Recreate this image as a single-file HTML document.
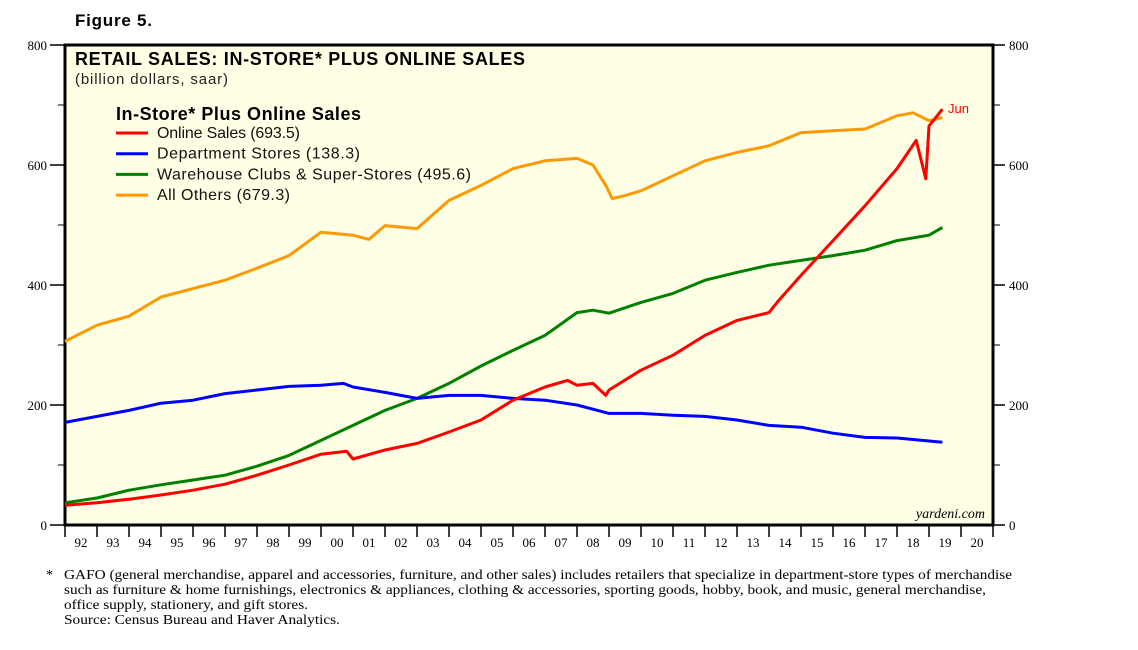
<!DOCTYPE html>
<html><head><meta charset="utf-8"><style>
body{margin:0;background:#fff;width:1138px;height:645px;overflow:hidden}
svg text{font-family:"Liberation Sans",sans-serif}
.s{font-family:"Liberation Serif",serif}
</style></head><body>
<svg id="c" width="1138" height="645">
<text x="75" y="26" font-size="17" font-weight="bold" textLength="77">Figure 5.</text>
<rect x="65" y="45" width="928" height="480" fill="#ffffe6" stroke="#000" stroke-width="3"/>
<text x="75" y="65" font-size="18" font-weight="bold" textLength="450">RETAIL SALES: IN-STORE* PLUS ONLINE SALES</text>
<text x="75" y="84" font-size="15" fill="#222" textLength="153">(billion dollars, saar)</text>
<g id="legend">
<text x="116" y="120" font-size="18" font-weight="bold" textLength="245">In-Store* Plus Online Sales</text>
</g>
<g id="axes"></g>
<g id="series"></g>
<text x="948" y="113" font-size="13" fill="#f00">Jun</text>
<text class="s" x="985" y="518" font-size="14" font-style="italic" text-anchor="end">yardeni.com</text>
<g class="s" font-size="14">
<text class="s" x="46" y="579">*</text>
<text class="s" x="64" y="579" textLength="948" lengthAdjust="spacingAndGlyphs">GAFO (general merchandise, apparel and accessories, furniture, and other sales) includes retailers that specialize in department-store types of merchandise</text>
<text class="s" x="64" y="594" textLength="922" lengthAdjust="spacingAndGlyphs">such as furniture &amp; home furnishings, electronics &amp; appliances, clothing &amp; accessories, sporting goods, hobby, book, and music, general merchandise,</text>
<text class="s" x="64" y="609" textLength="244" lengthAdjust="spacingAndGlyphs">office supply, stationery, and gift stores.</text>
<text class="s" x="64" y="624" textLength="276" lengthAdjust="spacingAndGlyphs">Source: Census Bureau and Haver Analytics.</text>
</g>
</svg>
<script>
const yTicks=[0,200,400,600,800];
const yearLabels=["92","93","94","95","96","97","98","99","00","01","02","03","04","05","06","07","08","09","10","11","12","13","14","15","16","17","18","19","20"];
const othersX=[1992,1993,1994,1995,1996,1997,1998,1999,2000,2001,2001.5,2002,2003,2004,2005,2006,2007,2008,2008.5,2008.9,2009.1,2009.5,2010,2011,2012,2013,2014,2015,2016,2017,2018,2018.5,2019,2019.42];
const othersY=[306,333,348,380,394,408,428,449,488,483,476,499,494,541,566,594,607,611,600,566,544,549,557,582,607,621,632,654,657,660,682,687,674,679];
const onlineX=[1992,1993,1994,1995,1996,1997,1998,1999,2000,2000.8,2001,2002,2003,2004,2005,2006,2007,2007.7,2008,2008.5,2008.9,2009,2010,2011,2012,2013,2014,2014.3,2015,2016,2017,2018,2018.6,2018.9,2019,2019.42];
const onlineY=[33,37,43,50,58,68,83,100,118,123,110,125,136,155,175,208,230,241,233,236,216,225,258,283,316,341,354,374,416,474,532,594,641,577,665,693];
const wareX=[1992,1993,1994,1995,1996,1997,1998,1999,2000,2001,2002,2003,2004,2005,2006,2007,2008,2008.5,2009,2010,2011,2012,2013,2014,2015,2016,2017,2018,2019,2019.42];
const wareY=[37,45,58,67,75,83,98,116,141,166,191,211,236,265,291,316,354,358,353,371,386,408,421,433,441,449,458,474,483,496];
const deptX=[1992,1993,1994,1995,1996,1997,1998,1999,2000,2000.7,2001,2002,2003,2004,2005,2006,2007,2008,2009,2010,2011,2012,2013,2014,2015,2016,2017,2018,2019,2019.42];
const deptY=[171,181,191,203,208,219,225,231,233,236,230,221,211,216,216,211,208,200,186,186,183,181,175,166,163,153,146,145,140,138];
const NS="http://www.w3.org/2000/svg";
const X0=65,X1=993,Y0=525,Y1=45;
const xs=t=>X0+(t-1992)/29*(X1-X0);
const ys=v=>Y0-v/800*(Y0-Y1);
function mk(tag,attrs,parent){const e=document.createElementNS(NS,tag);for(const k in attrs)e.setAttribute(k,attrs[k]);parent.appendChild(e);return e;}
const ax=document.getElementById('axes');
yTicks.forEach(v=>{
 const t1=mk('line',{x1:50,x2:X0,y1:ys(v),y2:ys(v),stroke:'#000','stroke-width':1.5},ax);
 
 
 const t2=mk('line',{x1:X1,x2:1005,y1:ys(v),y2:ys(v),stroke:'#000','stroke-width':1.5},ax);
 
 
 const l=mk('text',{x:47,y:ys(v)+5,'font-size':13,'text-anchor':'end',class:'s'},ax);l.textContent=v;
 
 
 const r=mk('text',{x:1009,y:ys(v)+5,'font-size':13,class:'s'},ax);r.textContent=v;
 
 
});
[100,300,500,700].forEach(v=>{mk('line',{x1:58,x2:X0,y1:ys(v),y2:ys(v),stroke:'#000'},ax);mk('line',{x1:X1,x2:1000,y1:ys(v),y2:ys(v),stroke:'#000'},ax);});
yearLabels.forEach((s,i)=>{
 const tk=mk('line',{x1:xs(1992+i),x2:xs(1992+i),y1:Y0,y2:Y0+12,stroke:'#000','stroke-width':1.5},ax);
 
 
 const t=mk('text',{x:xs(1992.5+i),y:Y0+22,'font-size':13,'text-anchor':'middle',class:'s'},ax);t.textContent=s;
 
 
});
mk('line',{x1:X1,x2:X1,y1:Y0,y2:Y0+12,stroke:'#000','stroke-width':1.5},ax);
const sg=document.getElementById('series');
const series=[["others",othersX,othersY,"#ff9900"],["warehouse",wareX,wareY,"#008000"],["department",deptX,deptY,"#0000ff"],["online",onlineX,onlineY,"#ff0000"]];
series.forEach(([n,xa,ya,c])=>{
 const d=xa.map((t,i)=>(i?'L':'M')+xs(t).toFixed(1)+','+ys(ya[i]).toFixed(1)).join('');
 const p=mk('path',{d:d,fill:'none',stroke:c,'stroke-width':3,'stroke-linejoin':'round'},sg);
 
 
});
const lg=document.getElementById('legend');
const legendItems=[["Online Sales (693.5)","#ff0000",143],["Department Stores (138.3)","#0000ff",203],["Warehouse Clubs & Super-Stores (495.6)","#008000",314],["All Others (679.3)","#ff9900",133]];
legendItems.forEach(([s,c,w],i)=>{
 const y=133+i*20.7;
 const l=mk('line',{x1:116,x2:148,y1:y,y2:y,stroke:c,'stroke-width':3},lg);
 
 
 const t=mk('text',{x:157,y:y+5,'font-size':16,fill:'#111',textLength:w},lg);t.textContent=s;
 
 
});
</script>
</body></html>
